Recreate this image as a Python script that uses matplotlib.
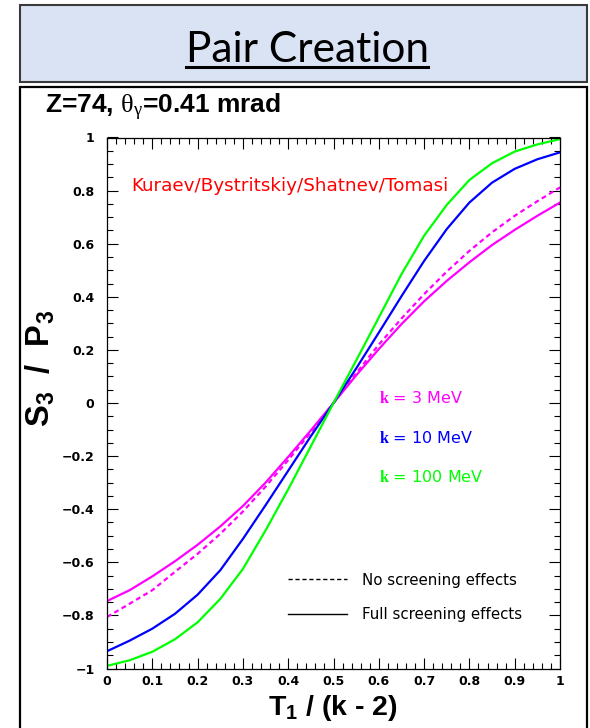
import matplotlib
matplotlib.use('Agg')
import matplotlib.pyplot as plt
from matplotlib.patches import Rectangle
from matplotlib.lines import Line2D
from matplotlib.ticker import MultipleLocator, FuncFormatter

plt.rcParams['mathtext.fontset'] = 'custom'
plt.rcParams['mathtext.rm'] = 'Liberation Serif'
plt.rcParams['mathtext.bf'] = 'Liberation Sans:bold'
plt.rcParams['mathtext.sf'] = 'Liberation Serif:bold'

# -----------------------------
# data: S3/P3 vs T1/(k-2), Z=74
# -----------------------------
t1_frac = [0.0, 0.05, 0.1, 0.15, 0.2, 0.25, 0.3, 0.35, 0.4, 0.45, 0.5,
           0.55, 0.6, 0.65, 0.7, 0.75, 0.8, 0.85, 0.9, 0.95, 1.0]

k3_full = [-0.746, -0.705, -0.653, -0.596, -0.534, -0.465, -0.388, -0.300, -0.203, -0.103, 0.0,
           0.104, 0.203, 0.297, 0.383, 0.460, 0.530, 0.595, 0.652, 0.705, 0.755]
k3_noscr = [-0.806, -0.756, -0.705, -0.636, -0.568, -0.493, -0.409, -0.315, -0.215, -0.110, 0.0,
            0.112, 0.220, 0.318, 0.410, 0.495, 0.573, 0.643, 0.705, 0.760, 0.812]
k10_full = [-0.935, -0.895, -0.850, -0.794, -0.722, -0.630, -0.512, -0.385, -0.255, -0.125, 0.0,
            0.130, 0.265, 0.402, 0.535, 0.655, 0.755, 0.830, 0.882, 0.918, 0.944]
k100_full = [-0.990, -0.969, -0.937, -0.890, -0.826, -0.738, -0.625, -0.480, -0.325, -0.163, 0.0,
             0.160, 0.322, 0.485, 0.630, 0.746, 0.840, 0.903, 0.947, 0.974, 0.994]

MAGENTA = '#ff00ff'
BLUE = '#0000ff'
GREEN = '#00ff00'

W, H = 590, 728
fig = plt.figure(figsize=(W / 100, H / 100), dpi=100)

def px(x, y):
    return x / W, 1 - y / H

# title box
x0, y0 = px(20, 82)
x1, y1 = px(587, 5)
fig.patches.append(Rectangle((x0, y0), x1 - x0, y1 - y0, transform=fig.transFigure,
                             facecolor='#dae3f3', edgecolor='#3a3a3a', lw=1.5, zorder=-10))
title = fig.text(px(307, 0)[0], px(0, 62)[1], 'Pair Creation', family='Lato',
                 fontsize=30.5, ha='center', va='baseline', color='black')

# plot box
x0, y0 = px(20, 735)
x1, y1 = px(587, 87)
fig.patches.append(Rectangle((x0, y0), x1 - x0, y1 - y0, transform=fig.transFigure,
                             facecolor='white', edgecolor='black', lw=1.6, zorder=-10))

fig.text(px(45, 0)[0], px(0, 113)[1], r'Z=74, $\mathrm{\theta_{\gamma}}$=0.41 mrad',
         family='Liberation Sans', weight='bold', fontsize=19, va='baseline')

ax_l, ax_b = px(107, 668.5)
ax_r, ax_t = px(560, 137.5)
ax = fig.add_axes([ax_l, ax_b, ax_r - ax_l, ax_t - ax_b])

ax.plot(t1_frac, k3_full, color=MAGENTA, lw=1.6)
ax.plot(t1_frac, k3_noscr, color=MAGENTA, lw=1.6, dashes=(2.2, 1.6))
ax.plot(t1_frac, k10_full, color=BLUE, lw=1.6)
ax.plot(t1_frac, k100_full, color=GREEN, lw=1.6)

ax.set_xlim(0, 1)
ax.set_ylim(-1, 1)
ax.xaxis.set_major_locator(MultipleLocator(0.1))
ax.xaxis.set_minor_locator(MultipleLocator(0.02))
ax.yaxis.set_major_locator(MultipleLocator(0.2))
ax.yaxis.set_minor_locator(MultipleLocator(0.05))

def root_fmt(v, pos):
    if abs(v) < 1e-9:
        return '0'
    s = '%d' % round(v) if abs(abs(v) - 1) < 1e-9 else '%.1f' % v
    return s.replace('-', '\u2212')

ax.xaxis.set_major_formatter(FuncFormatter(root_fmt))
ax.yaxis.set_major_formatter(FuncFormatter(root_fmt))
ax.tick_params(which='both', direction='in', top=True, right=True, width=0.8)
ax.tick_params(which='major', length=8)
ax.tick_params(which='minor', length=4.5)
ax.tick_params(axis='x', pad=5)
ax.tick_params(axis='y', pad=9)
for lab in ax.get_xticklabels() + ax.get_yticklabels():
    lab.set_family('DejaVu Sans')
    lab.set_fontweight('bold')
    lab.set_fontsize(9)
for sp in ax.spines.values():
    sp.set_linewidth(0.9)

fig.text(px(333, 0)[0], px(0, 715)[1], r'$\mathbf{T_1}$ / (k - 2)', family='Liberation Sans',
         weight='bold', fontsize=20.5, ha='center', va='baseline')
fig.text(px(40, 0)[0], px(0, 368)[1], r'$\mathbf{S_3}$  /  $\mathbf{P_3}$', family='Liberation Sans',
         weight='bold', fontsize=23.5, ha='center', va='center', rotation=90)

ax.text(0.053, 0.909, 'Kuraev/Bystritskiy/Shatnev/Tomasi', transform=ax.transAxes,
        color='#ff0000', family='DejaVu Sans', fontsize=13.2, va='center')

for lab, col, yy in [('3', MAGENTA, 0.51), ('10', BLUE, 0.435), ('100', GREEN, 0.36)]:
    ax.text(0.6, yy, r'$\mathsf{k}$ = %s MeV' % lab, transform=ax.transAxes,
            color=col, family='DejaVu Sans', fontsize=11.5, va='center')

handles = [Line2D([], [], color='black', lw=1.0, dashes=(3, 2)),
           Line2D([], [], color='black', lw=1.0)]
ax.legend(handles, ['No screening effects', 'Full screening effects'],
          loc='lower left', bbox_to_anchor=(0.37, 0.062), frameon=False,
          prop={'family': 'DejaVu Sans', 'size': 10.8}, handlelength=3.9,
          handletextpad=1.0, labelspacing=1.3)

# underline for the title
fig.canvas.draw()
bb = title.get_window_extent().transformed(fig.transFigure.inverted())
uy = px(0, 67)[1]
fig.add_artist(Line2D([bb.x0, bb.x1], [uy, uy], transform=fig.transFigure,
                      color='black', lw=2.2))

fig.savefig('out.png', dpi=100)
